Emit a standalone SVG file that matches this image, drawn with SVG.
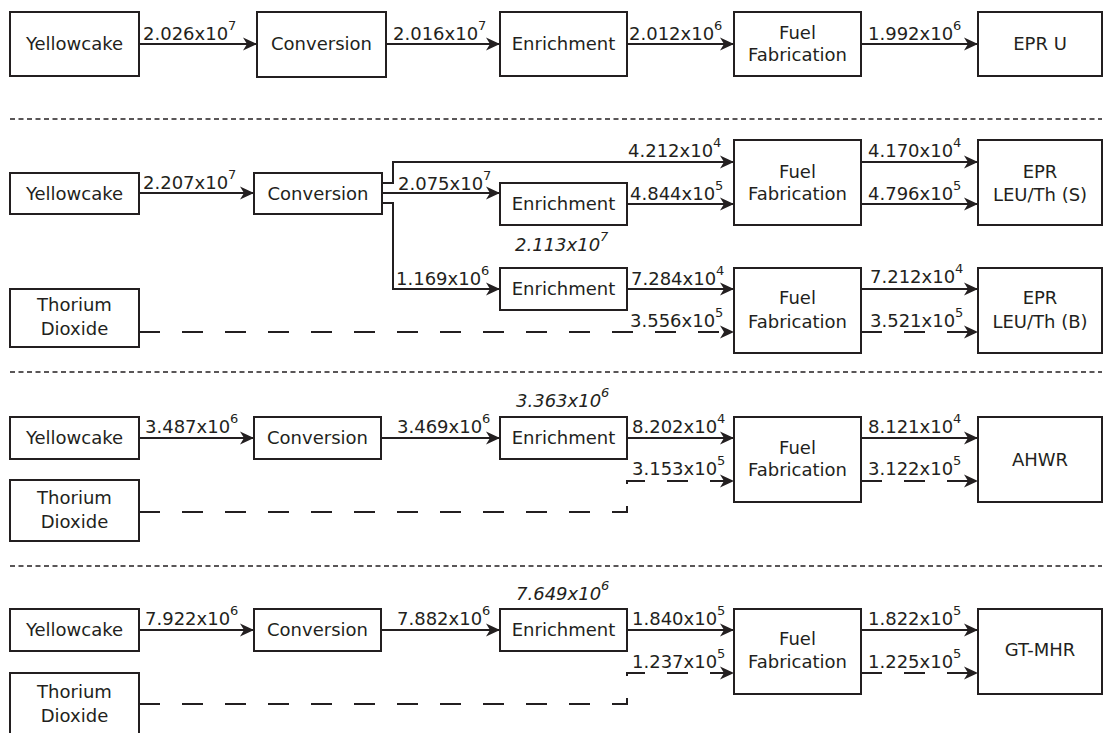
<svg xmlns="http://www.w3.org/2000/svg" width="1104" height="733" viewBox="0 0 1104 733">
<style>
.box{fill:#fff;stroke:#231f20;stroke-width:2}
.t{font-family:"DejaVu Sans",sans-serif;font-size:18px;fill:#231f20;text-anchor:middle}
.l{font-family:"DejaVu Sans",sans-serif;font-size:18px;fill:#231f20}
.i{font-family:"DejaVu Sans",sans-serif;font-size:18px;fill:#231f20;font-style:italic}
.s{font-size:13px}
.c{fill:none;stroke:#231f20;stroke-width:2}
.a{marker-end:url(#ah)}
.d{stroke-dasharray:21 22}
.sep{fill:none;stroke:#231f20;stroke-width:1.5;stroke-dasharray:5 3.5}
</style>
<defs>
<marker id="ah" viewBox="-14 -8 15 16" refX="0" refY="0" markerWidth="15" markerHeight="16" markerUnits="userSpaceOnUse" orient="auto">
<path d="M0,0 L-14,-6.5 L-10,0 L-14,6.5 Z" fill="#231f20" stroke="none"/>
</marker>
</defs>
<rect width="1104" height="733" fill="#fff"/>

<g id="separators">
<line class="sep" x1="10" y1="119" x2="1102" y2="119"/>
<line class="sep" x1="10" y1="372" x2="1102" y2="372"/>
<line class="sep" x1="10" y1="566" x2="1102" y2="566"/>
</g>

<g id="connectors">
<!-- Section 1 -->
<line class="c a" x1="139" y1="44" x2="257" y2="44"/>
<line class="c a" x1="386" y1="44" x2="500" y2="44"/>
<line class="c a" x1="627" y1="44" x2="734" y2="44"/>
<line class="c a" x1="861" y1="44" x2="978" y2="44"/>
<!-- Section 2 -->
<line class="c a" x1="139" y1="193" x2="254" y2="193"/>
<polyline class="c a" points="382,183 393,183 393,162 734,162"/>
<line class="c a" x1="382" y1="193" x2="500" y2="193"/>
<polyline class="c a" points="382,203 393,203 393,289 500,289"/>
<line class="c a" x1="627" y1="204" x2="734" y2="204"/>
<line class="c a" x1="861" y1="162" x2="978" y2="162"/>
<line class="c a" x1="861" y1="204" x2="978" y2="204"/>
<line class="c a" x1="627" y1="289" x2="734" y2="289"/>
<line class="c a d" x1="139" y1="332" x2="734" y2="332"/>
<line class="c a" x1="861" y1="289" x2="978" y2="289"/>
<line class="c a d" x1="861" y1="332" x2="978" y2="332"/>
<!-- Section 3 -->
<line class="c a" x1="139" y1="438" x2="254" y2="438"/>
<line class="c a" x1="381" y1="438" x2="500" y2="438"/>
<line class="c a" x1="627" y1="438" x2="734" y2="438"/>
<polyline class="c a d" points="139,512 627,512 627,481 734,481"/>
<line class="c a" x1="861" y1="438" x2="978" y2="438"/>
<line class="c a d" x1="861" y1="481" x2="978" y2="481"/>
<!-- Section 4 -->
<line class="c a" x1="139" y1="630" x2="254" y2="630"/>
<line class="c a" x1="381" y1="630" x2="500" y2="630"/>
<line class="c a" x1="627" y1="630" x2="734" y2="630"/>
<polyline class="c a d" points="139,704 627,704 627,673 734,673"/>
<line class="c a" x1="861" y1="630" x2="978" y2="630"/>
<line class="c a d" x1="861" y1="673" x2="978" y2="673"/>
</g>

<g id="labels">
<text class="l" x="143" y="40">2.026x10<tspan class="s" dy="-10">7</tspan></text>
<text class="l" x="393" y="40">2.016x10<tspan class="s" dy="-10">7</tspan></text>
<text class="l" x="629" y="40">2.012x10<tspan class="s" dy="-10">6</tspan></text>
<text class="l" x="868" y="40">1.992x10<tspan class="s" dy="-10">6</tspan></text>

<text class="l" x="143" y="189">2.207x10<tspan class="s" dy="-10">7</tspan></text>
<text class="l" x="628" y="157">4.212x10<tspan class="s" dy="-10">4</tspan></text>
<text class="l" x="398" y="190">2.075x10<tspan class="s" dy="-10">7</tspan></text>
<text class="l" x="630" y="200">4.844x10<tspan class="s" dy="-10">5</tspan></text>
<text class="l" x="868" y="157">4.170x10<tspan class="s" dy="-10">4</tspan></text>
<text class="l" x="868" y="200">4.796x10<tspan class="s" dy="-10">5</tspan></text>
<text class="i" x="515" y="251">2.113x10<tspan class="s" dy="-10">7</tspan></text>
<text class="l" x="396" y="285">1.169x10<tspan class="s" dy="-10">6</tspan></text>
<text class="l" x="631" y="285">7.284x10<tspan class="s" dy="-10">4</tspan></text>
<text class="l" x="870" y="283">7.212x10<tspan class="s" dy="-10">4</tspan></text>
<text class="l" x="630" y="327">3.556x10<tspan class="s" dy="-10">5</tspan></text>
<text class="l" x="870" y="327">3.521x10<tspan class="s" dy="-10">5</tspan></text>

<text class="l" x="145" y="433">3.487x10<tspan class="s" dy="-10">6</tspan></text>
<text class="l" x="397" y="433">3.469x10<tspan class="s" dy="-10">6</tspan></text>
<text class="i" x="516" y="407">3.363x10<tspan class="s" dy="-10">6</tspan></text>
<text class="l" x="632" y="433">8.202x10<tspan class="s" dy="-10">4</tspan></text>
<text class="l" x="632" y="475">3.153x10<tspan class="s" dy="-10">5</tspan></text>
<text class="l" x="868" y="433">8.121x10<tspan class="s" dy="-10">4</tspan></text>
<text class="l" x="868" y="475">3.122x10<tspan class="s" dy="-10">5</tspan></text>

<text class="l" x="145" y="625">7.922x10<tspan class="s" dy="-10">6</tspan></text>
<text class="l" x="397" y="625">7.882x10<tspan class="s" dy="-10">6</tspan></text>
<text class="i" x="516" y="600">7.649x10<tspan class="s" dy="-10">6</tspan></text>
<text class="l" x="632" y="625">1.840x10<tspan class="s" dy="-10">5</tspan></text>
<text class="l" x="632" y="668">1.237x10<tspan class="s" dy="-10">5</tspan></text>
<text class="l" x="868" y="625">1.822x10<tspan class="s" dy="-10">5</tspan></text>
<text class="l" x="868" y="668">1.225x10<tspan class="s" dy="-10">5</tspan></text>
</g>

<!-- Section 1 nodes -->
<g id="s1-yellowcake"><rect class="box" x="10" y="12" width="129" height="64"/><text class="t" x="74.5" y="50">Yellowcake</text></g>
<g id="s1-conversion"><rect class="box" x="257" y="12" width="129" height="65"/><text class="t" x="321.5" y="50">Conversion</text></g>
<g id="s1-enrichment"><rect class="box" x="500" y="12" width="127" height="64"/><text class="t" x="563.5" y="50">Enrichment</text></g>
<g id="s1-fuelfab"><rect class="box" x="734" y="12" width="127" height="64"/><text class="t" x="797.5" y="39">Fuel</text><text class="t" x="797.5" y="61">Fabrication</text></g>
<g id="s1-epru"><rect class="box" x="978" y="12" width="124" height="64"/><text class="t" x="1040" y="50">EPR U</text></g>

<!-- Section 2 nodes -->
<g id="s2-yellowcake"><rect class="box" x="10" y="173" width="129" height="41"/><text class="t" x="74.5" y="200">Yellowcake</text></g>
<g id="s2-conversion"><rect class="box" x="254" y="173" width="128" height="41"/><text class="t" x="318" y="200">Conversion</text></g>
<g id="s2-enrichment-a"><rect class="box" x="500" y="183" width="127" height="42"/><text class="t" x="563.5" y="210">Enrichment</text></g>
<g id="s2-fuelfab-a"><rect class="box" x="734" y="140" width="127" height="85"/><text class="t" x="797.5" y="178">Fuel</text><text class="t" x="797.5" y="200">Fabrication</text></g>
<g id="s2-epr-s"><rect class="box" x="978" y="140" width="124" height="85"/><text class="t" x="1040" y="178">EPR</text><text class="t" x="1040" y="201">LEU/Th (S)</text></g>
<g id="s2-enrichment-b"><rect class="box" x="500" y="268" width="127" height="42"/><text class="t" x="563.5" y="295">Enrichment</text></g>
<g id="s2-fuelfab-b"><rect class="box" x="734" y="268" width="127" height="85"/><text class="t" x="797.5" y="304">Fuel</text><text class="t" x="797.5" y="328">Fabrication</text></g>
<g id="s2-epr-b"><rect class="box" x="978" y="268" width="124" height="85"/><text class="t" x="1040" y="304">EPR</text><text class="t" x="1040" y="328">LEU/Th (B)</text></g>
<g id="s2-thorium"><rect class="box" x="10" y="289" width="129" height="58"/><text class="t" x="74.5" y="311">Thorium</text><text class="t" x="74.5" y="335">Dioxide</text></g>

<!-- Section 3 nodes -->
<g id="s3-yellowcake"><rect class="box" x="10" y="417" width="129" height="42"/><text class="t" x="74.5" y="444">Yellowcake</text></g>
<g id="s3-conversion"><rect class="box" x="254" y="417" width="127" height="42"/><text class="t" x="317.5" y="444">Conversion</text></g>
<g id="s3-enrichment"><rect class="box" x="500" y="417" width="127" height="42"/><text class="t" x="563.5" y="444">Enrichment</text></g>
<g id="s3-fuelfab"><rect class="box" x="734" y="417" width="127" height="85"/><text class="t" x="797.5" y="454">Fuel</text><text class="t" x="797.5" y="476">Fabrication</text></g>
<g id="s3-ahwr"><rect class="box" x="978" y="417" width="124" height="85"/><text class="t" x="1040" y="466">AHWR</text></g>
<g id="s3-thorium"><rect class="box" x="10" y="480" width="129" height="61"/><text class="t" x="74.5" y="504">Thorium</text><text class="t" x="74.5" y="528">Dioxide</text></g>

<!-- Section 4 nodes -->
<g id="s4-yellowcake"><rect class="box" x="10" y="609" width="129" height="42"/><text class="t" x="74.5" y="636">Yellowcake</text></g>
<g id="s4-conversion"><rect class="box" x="254" y="609" width="127" height="42"/><text class="t" x="317.5" y="636">Conversion</text></g>
<g id="s4-enrichment"><rect class="box" x="500" y="609" width="127" height="42"/><text class="t" x="563.5" y="636">Enrichment</text></g>
<g id="s4-fuelfab"><rect class="box" x="734" y="609" width="127" height="85"/><text class="t" x="797.5" y="645">Fuel</text><text class="t" x="797.5" y="668">Fabrication</text></g>
<g id="s4-gtmhr"><rect class="box" x="978" y="609" width="124" height="85"/><text class="t" x="1040" y="656">GT-MHR</text></g>
<g id="s4-thorium"><rect class="box" x="10" y="673" width="129" height="70"/><text class="t" x="74.5" y="698">Thorium</text><text class="t" x="74.5" y="722">Dioxide</text></g>
</svg>
